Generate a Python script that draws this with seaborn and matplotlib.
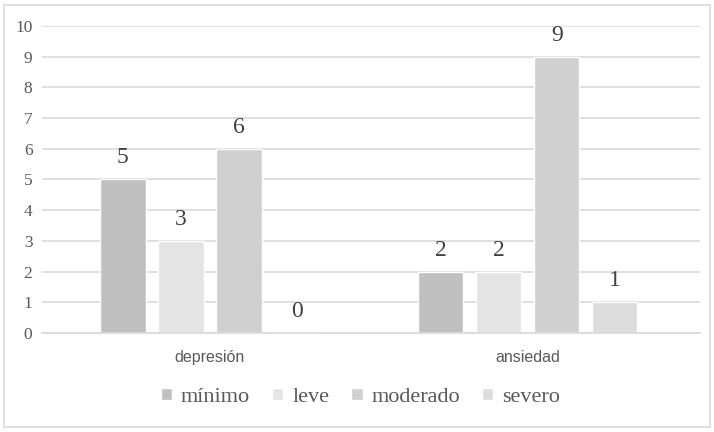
import seaborn as sns
import pandas as pd
import matplotlib.pyplot as plt
from matplotlib.patches import Rectangle

categories = ['depresión', 'ansiedad']
levels = ['mínimo', 'leve', 'moderado', 'severo']
minimo = [5, 2]
leve = [3, 2]
moderado = [6, 9]
severo = [0, 1]
colors = ['#c0c0c0', '#e4e4e4', '#d0d0d0', '#dcdcdc']

rows = []
for i, cat in enumerate(categories):
    for lev, vals in zip(levels, [minimo, leve, moderado, severo]):
        rows.append({'grupo': cat, 'nivel': lev, 'valor': vals[i]})
df = pd.DataFrame(rows)

sns.set_theme(style="white")
fig = plt.figure(figsize=(7.14, 4.32), dpi=100)
ax = fig.add_axes([0.059, 0.229, 0.921, 0.711])

sns.barplot(data=df, x='grupo', y='valor', hue='nivel', order=categories,
            hue_order=levels, palette=colors, width=0.73, gap=0.22,
            saturation=1, ax=ax, legend=True)

ax.set_ylim(0, 10)
ax.set_xlim(-0.528, 1.541)
ax.set_yticks(range(0, 11))
ax.yaxis.grid(True, color='#d9d9d9', linewidth=1.2)
ax.set_axisbelow(True)
for s in ['top', 'right', 'left']:
    ax.spines[s].set_visible(False)
ax.spines['bottom'].set_color('#d9d9d9')
ax.spines['bottom'].set_linewidth(1.2)
ax.set_xlabel('')
ax.set_ylabel('')
ax.tick_params(axis='both', length=0)
for t in ax.get_yticklabels():
    t.set_family('Liberation Serif')
    t.set_fontsize(12.5)
    t.set_color('#595959')
for t in ax.get_xticklabels():
    t.set_family('Liberation Sans')
    t.set_fontsize(11.5)
    t.set_color('#595959')
ax.tick_params(axis='x', pad=12)
ax.tick_params(axis='y', pad=7)

for cont in ax.containers:
    ax.bar_label(cont, fmt='%d', padding=8, fontsize=17,
                 family='Liberation Serif', color='#404040')

handles, labels = ax.get_legend_handles_labels()
ax.legend_.remove()
fig.legend(handles, labels, loc='center', bbox_to_anchor=(0.505, 0.08),
           ncol=4, frameon=False, handlelength=0.5, handleheight=0.5,
           columnspacing=1.0, handletextpad=0.4,
           prop={'family': 'Liberation Serif', 'size': 16})
for txt in fig.legends[0].get_texts():
    txt.set_color('#595959')

fig.patches.append(Rectangle((0.006, 0.012), 0.988, 0.976, transform=fig.transFigure,
                             fill=False, edgecolor='#d9d9d9', linewidth=1.2))

plt.savefig('out.png', dpi=100)
